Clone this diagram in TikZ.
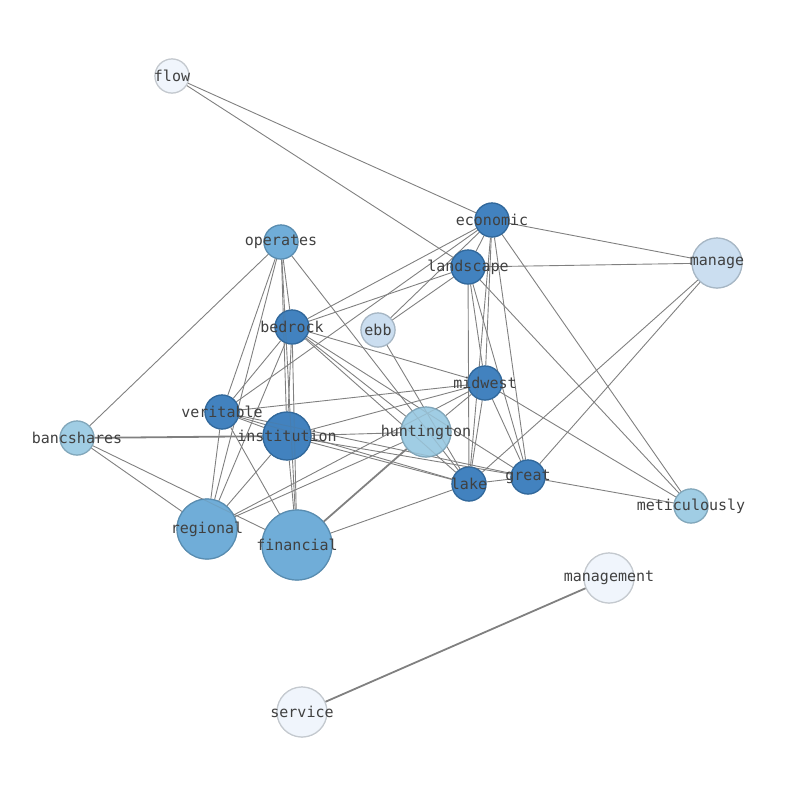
\documentclass[tikz,border=0pt]{standalone}
\usepackage{fontspec}
\setmainfont{DejaVu Sans Mono}
\begin{document}
\begin{tikzpicture}[x=1pt,y=-1pt,
n/.style={circle,draw=#1!80!black,fill=#1,opacity=0.8,line width=1.2pt,inner sep=0pt},
lb/.style={text=black!75,font=\fontsize{15}{15}\selectfont},
e/.style={draw=black!50,line width=0.9pt},
E/.style={draw=black!50,line width=1.8pt}]
\useasboundingbox (0,0) rectangle (794,790);
\definecolor{dk}{HTML}{3A7DBC}\definecolor{md}{HTML}{6AAAD6}\definecolor{lt}{HTML}{9CCBE3}\definecolor{pl}{HTML}{C9DDEF}\definecolor{vp}{HTML}{EFF5FC}
\foreach \n/\x/\y/\c/\r in {flow/172/76/vp/17,economic/492/220/dk/17,operates/281/242/md/17,landscape/468/267/dk/17,manage/717/263/pl/25,bedrock/292/327/dk/17,ebb/378/330/pl/17,midwest/485/383/dk/17,veritable/222/412/dk/17,institution/287/436/dk/24,huntington/426/432/lt/25,bancshares/77/438/lt/17,great/528/477/dk/17,lake/469/484/dk/17,meticulously/691/506/lt/17,regional/207/529/md/30,financial/297/545/md/35,management/609/578/vp/25,service/302/712/vp/25}
  \node[n=\c,minimum size=2*\r] (\n) at (\x,\y) {};
\begin{scope}[on background layer/.try]
\foreach \a/\b in {flow/economic,flow/landscape,economic/manage,economic/landscape,economic/bedrock,economic/veritable,economic/ebb,economic/midwest,economic/lake,economic/great,economic/meticulously,landscape/manage,landscape/bedrock,landscape/ebb,landscape/midwest,landscape/lake,landscape/great,landscape/meticulously,operates/bancshares,operates/veritable,operates/regional,operates/institution,operates/financial,operates/bedrock,operates/lake,bedrock/institution,bedrock/financial,bedrock/veritable,bedrock/regional,bedrock/midwest,bedrock/huntington,bedrock/lake,bedrock/great,ebb/lake,midwest/veritable,midwest/institution,midwest/regional,midwest/lake,midwest/great,midwest/meticulously,midwest/huntington,veritable/institution,veritable/regional,veritable/financial,veritable/lake,veritable/great,bancshares/regional,bancshares/financial,institution/great,institution/lake,institution/huntington,institution/regional,institution/financial,huntington/regional,lake/great,lake/financial,lake/manage,great/manage,great/meticulously}
  \draw[e] (\a) -- (\b);
\draw[E] (bancshares) -- (institution);
\draw[E] (huntington) -- (financial);
\draw[E] (management) -- (service);
\end{scope}
\foreach \n/\x/\y/\c/\r in {flow/172/76/vp/17,economic/492/220/dk/17,operates/281/242/md/17,landscape/468/267/dk/17,manage/717/263/pl/25,bedrock/292/327/dk/17,ebb/378/330/pl/17,midwest/485/383/dk/17,veritable/222/412/dk/17,institution/287/436/dk/24,huntington/426/432/lt/25,bancshares/77/438/lt/17,great/528/477/dk/17,lake/469/484/dk/17,meticulously/691/506/lt/17,regional/207/529/md/30,financial/297/545/md/35,management/609/578/vp/25,service/302/712/vp/25}
  \node[n=\c,minimum size=2*\r] at (\x,\y) {};
\foreach \n/\x/\y in {flow/172/76,economic/492/220,operates/281/242,landscape/468/267,manage/717/263,bedrock/292/327,ebb/378/330,midwest/485/383,veritable/222/412,institution/287/436,huntington/426/432,bancshares/77/438,great/528/477,lake/469/484,meticulously/691/506,regional/207/529,financial/297/545,management/609/578,service/302/712}
  \node[lb] (t\n) at (\x,\y) {\n};
\end{tikzpicture}
\end{document}
